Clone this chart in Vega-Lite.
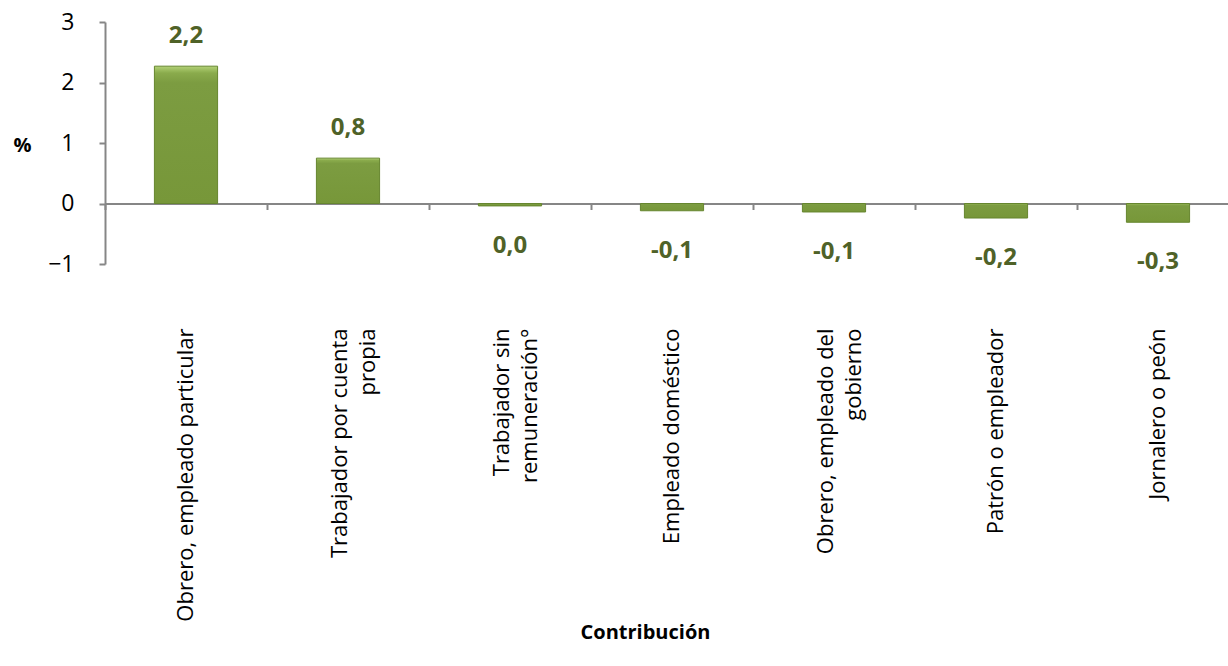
{
  "$schema": "https://vega.github.io/schema/vega-lite/v6.json",
  "autosize": {"type": "none"},
  "width": 1123,
  "height": 242,
  "padding": {"left": 105, "top": 22, "right": 0, "bottom": 402},
  "background": "white",
  "config": {"view": {"stroke": null}, "font": "Open Sans"},
  "data": {"values": [
    {"cat": "Obrero, empleado particular", "value": 2.27, "label": "2,2"},
    {"cat": "Trabajador por cuenta\npropia", "value": 0.75, "label": "0,8"},
    {"cat": "Trabajador sin\nremuneración°", "value": -0.04, "label": "0,0"},
    {"cat": "Empleado doméstico", "value": -0.12, "label": "-0,1"},
    {"cat": "Obrero, empleado del\ngobierno", "value": -0.14, "label": "-0,1"},
    {"cat": "Patrón o empleador", "value": -0.24, "label": "-0,2"},
    {"cat": "Jornalero o peón", "value": -0.31, "label": "-0,3"}
  ]},
  "resolve": {"axis": {"x": "independent", "y": "independent"}},
  "layer": [
    {
      "mark": {"type": "bar", "width": {"band": 0.39},
        "color": {"gradient": "linear", "x1": 0, "y1": 0, "x2": 0, "y2": 1,
          "stops": [{"offset": 0, "color": "#B3D277"}, {"offset": 0.05, "color": "#8AAB4C"}, {"offset": 0.12, "color": "#7C9C41"}, {"offset": 1, "color": "#779739"}]},
        "stroke": "#66862F", "strokeWidth": 1},
      "encoding": {
        "x": {"field": "cat", "type": "nominal", "sort": null,
          "scale": {"range": [0, 1134], "paddingInner": 0, "paddingOuter": 0},
          "axis": {"orient": "bottom", "domain": false, "ticks": false, "labelAngle": -90, "labelAlign": "right", "labelBaseline": "middle",
            "labelPadding": 64, "labelFontSize": 22, "labelColor": "#000000", "labelLimit": 400, "labelLineHeight": 28,
            "labelOffset": {"condition": {"test": "indexof(datum.label, '\\n') >= 0", "value": -8}, "value": 0},
            "labelExpr": "split(datum.label, '\\n')",
            "title": "Contribución", "titleFontSize": 20, "titleFontWeight": "bold", "titleColor": "#000000",
            "titleX": 540, "titleY": 368, "titleAlign": "center", "titleBaseline": "middle"}},
        "y": {"field": "value", "type": "quantitative",
          "scale": {"domain": [-1, 3], "nice": false},
          "axis": {"values": [-1, 0, 1, 2, 3], "grid": false, "domainColor": "#868686", "domainWidth": 2, "tickColor": "#868686", "tickWidth": 2, "tickSize": 6,
            "labelFontSize": 23, "labelColor": "#000000", "labelPadding": 25,
            "title": "%", "titleAngle": 0, "titleFontSize": 20, "titleFontWeight": "bold", "titleColor": "#000000",
            "titleX": -83, "titleY": 123, "titleAlign": "center", "titleBaseline": "middle"}}
      }
    },
    {
      "mark": {"type": "tick", "opacity": 0},
      "encoding": {
        "x": {"field": "cat", "type": "nominal", "sort": null,
          "axis": {"orient": "bottom", "offset": -60.5, "labels": false, "title": null, "domainColor": "#868686", "domainWidth": 2, "tickColor": "#868686", "tickWidth": 2, "tickSize": 6, "tickBand": "extent"}},
        "y": {"field": "value", "type": "quantitative", "axis": null}
      }
    },
    {
      "transform": [{"filter": "datum.value > 0"}],
      "mark": {"type": "text", "dy": -30, "fontSize": 24, "fontWeight": "bold", "color": "#4F6228", "baseline": "middle"},
      "encoding": {
        "x": {"field": "cat", "type": "nominal", "sort": null, "axis": null},
        "y": {"field": "value", "type": "quantitative", "axis": null},
        "text": {"field": "label"}
      }
    },
    {
      "transform": [{"filter": "datum.value <= 0"}],
      "mark": {"type": "text", "dy": 40, "fontSize": 24, "fontWeight": "bold", "color": "#4F6228", "baseline": "middle"},
      "encoding": {
        "x": {"field": "cat", "type": "nominal", "sort": null, "axis": null},
        "y": {"field": "value", "type": "quantitative", "axis": null},
        "text": {"field": "label"}
      }
    }
  ]
}
